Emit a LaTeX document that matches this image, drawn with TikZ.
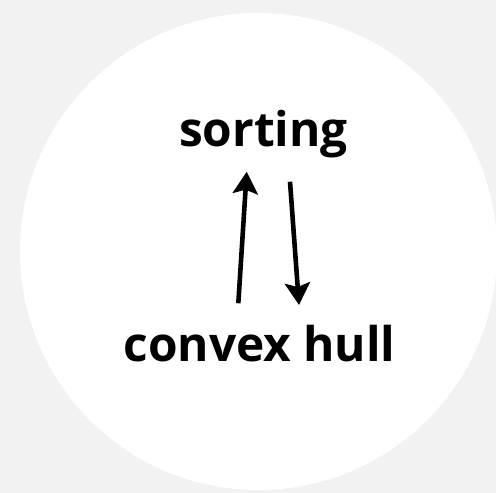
\documentclass[tikz,border=0pt]{standalone}
\usepackage{fontspec}
\setmainfont{Open Sans}
\usetikzlibrary{arrows.meta,calc}
\definecolor{bggray}{HTML}{F2F2F2}
\begin{document}
\begin{tikzpicture}[x=1pt,y=1pt,
  label/.style={font=\fontsize{47.8}{57}\selectfont\bfseries, inner sep=0pt, anchor=base},
  reduce/.style={line width=4.6pt, -{Stealth[length=22pt,width=25pt,inset=4pt]}}]
\fill[bggray] (0,0) rectangle (496,493);
\useasboundingbox (0,0) rectangle (496,493);
\fill[white] (258.5,241.5) circle[radius=238.5];
\node[label] (sort) at (263.5,346) {sorting};
\node[label] (conv) at (259.5,131.3) {convex hull};
\draw[reduce] ($(conv.base)+(-21.2,58.4)$) -- ($(sort.base)+(-16.8,-24.7)$);
\draw[reduce] ($(sort.base)+(26.5,-34.7)$) -- ($(conv.base)+(39.5,56.7)$);
\end{tikzpicture}
\end{document}
